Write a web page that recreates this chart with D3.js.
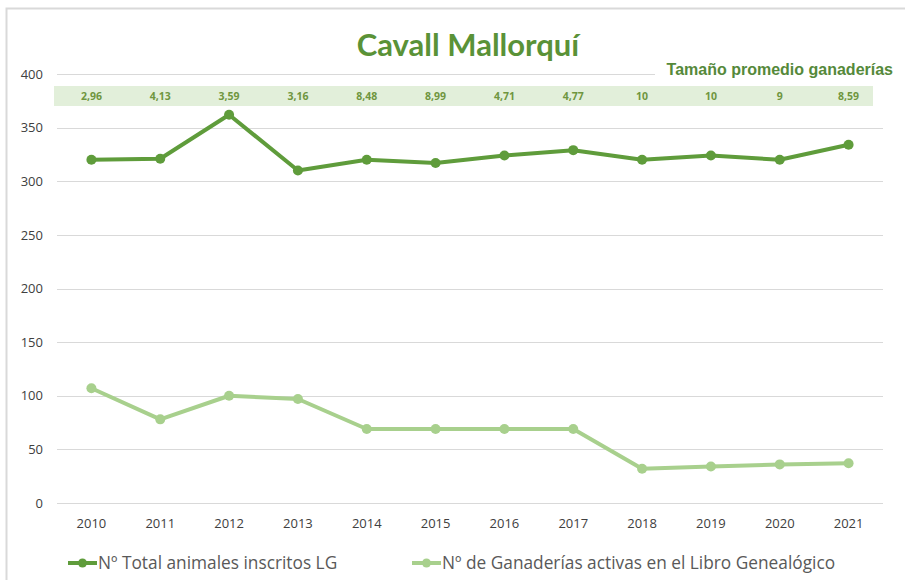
<!DOCTYPE html>
<head>
    <meta charset="utf-8" />
    <title>Cavall Mallorquí</title>
</head>

<style>
    body {
        margin: 0;
        background-color: #ffffff;
    }

    .axis text {
        font-family: "Open Sans", sans-serif;
        font-size: 13px;
        fill: #404040;
    }

    .axis path,
    .axis line {
        display: none;
    }

    .grid line {
        stroke: #d9d9d9;
        stroke-width: 1px;
        shape-rendering: crispEdges;
    }
</style>

<body>
    <svg id="chart" width="905" height="580"></svg>
    <script src="https://cdn.jsdelivr.net/npm/d3@7"></script>

    <script>
        // data
        var years = ["2010", "2011", "2012", "2013", "2014", "2015", "2016", "2017", "2018", "2019", "2020", "2021"];
        var totalAnimales = [320, 321, 362, 310, 320, 317, 324, 329, 320, 324, 320, 334];
        var ganaderias = [107, 78, 100, 97, 69, 69, 69, 69, 32, 34, 36, 37];
        var tamanoPromedio = ["2,96", "4,13", "3,59", "3,16", "8,48", "8,99", "4,71", "4,77", "10", "10", "9", "8,59"];
        var yTicks = [0, 50, 100, 150, 200, 250, 300, 350, 400];
        var seriesNames = ["Nº Total animales inscritos LG", "Nº de Ganaderías activas en el Libro Genealógico"];

        var darkGreen = "#5f9c3b",
            lightGreen = "#a8d08d";

        var svg = d3.select("#chart");

        // chart border
        svg.append("rect")
            .attr("x", 6.5)
            .attr("y", 8.5)
            .attr("width", 910)
            .attr("height", 590)
            .attr("fill", "none")
            .attr("stroke", "#d9d9d9")
            .attr("stroke-width", 2);

        var x = d3.scaleBand().domain(years).range([57, 883]);
        var y = d3.scaleLinear().domain([0, 400]).range([503, 74]);

        // gridlines
        svg.append("g")
            .attr("class", "grid")
            .selectAll("line")
            .data(yTicks)
            .enter().append("line")
            .attr("x1", 57)
            .attr("x2", function(d) { return d == 400 ? 655 : 883; })
            .attr("y1", function(d) { return Math.round(y(d)) + 0.5; })
            .attr("y2", function(d) { return Math.round(y(d)) + 0.5; });

        // axes
        svg.append("g")
            .attr("class", "y axis")
            .attr("transform", "translate(49,0)")
            .call(d3.axisLeft(y).tickValues(yTicks).tickSize(0).tickPadding(6));

        svg.append("g")
            .attr("class", "x axis")
            .attr("transform", "translate(0,515)")
            .call(d3.axisBottom(x).tickSize(0).tickPadding(4));

        // title
        svg.append("text")
            .attr("x", 468)
            .attr("y", 56)
            .attr("text-anchor", "middle")
            .attr("font-family", "Lato, sans-serif")
            .attr("font-weight", "bold")
            .attr("font-size", "31px")
            .attr("fill", "#5a9237")
            .text("Cavall Mallorquí");

        svg.append("text")
            .attr("x", 893)
            .attr("y", 75)
            .attr("text-anchor", "end")
            .attr("font-family", "'Liberation Sans Narrow', sans-serif")
            .attr("font-weight", "bold")
            .attr("font-size", "16px")
            .attr("fill", "#55893a")
            .text("Tamaño promedio ganaderías");

        // band with the average size
        svg.append("rect")
            .attr("x", 54)
            .attr("y", 86)
            .attr("width", 819)
            .attr("height", 20)
            .attr("fill", "#e2efda");

        svg.selectAll(".avg")
            .data(tamanoPromedio)
            .enter().append("text")
            .attr("class", "avg")
            .attr("x", function(d, i) { return x(years[i]) + x.bandwidth() / 2; })
            .attr("y", 100)
            .attr("text-anchor", "middle")
            .attr("font-family", "'Open Sans', sans-serif")
            .attr("font-weight", "bold")
            .attr("font-size", "10.5px")
            .attr("fill", "#6f963f")
            .text(function(d) { return d; });

        // lines
        var line = d3.line()
            .x(function(d, i) { return x(years[i]) + x.bandwidth() / 2; })
            .y(function(d) { return y(d); });

        var series = [
            { name: seriesNames[0], values: totalAnimales, color: darkGreen },
            { name: seriesNames[1], values: ganaderias, color: lightGreen }
        ];

        series.forEach(function(s) {
            svg.append("path")
                .datum(s.values)
                .attr("fill", "none")
                .attr("stroke", s.color)
                .attr("stroke-width", 4)
                .attr("stroke-linejoin", "round")
                .attr("d", line);

            svg.selectAll(null)
                .data(s.values)
                .enter().append("circle")
                .attr("cx", function(d, i) { return x(years[i]) + x.bandwidth() / 2; })
                .attr("cy", function(d) { return y(d); })
                .attr("r", 5)
                .attr("fill", s.color);
        });

        // legend
        var legendX = [68, 412];
        var legend = svg.selectAll(".legend")
            .data(series)
            .enter().append("g")
            .attr("class", "legend")
            .attr("transform", function(d, i) { return "translate(" + legendX[i] + ",563)"; });

        legend.append("line")
            .attr("x1", 0)
            .attr("x2", 29)
            .attr("stroke", function(d) { return d.color; })
            .attr("stroke-width", 4);

        legend.append("circle")
            .attr("cx", 14.5)
            .attr("r", 4.5)
            .attr("fill", function(d) { return d.color; });

        legend.append("text")
            .attr("x", 30)
            .attr("y", 6)
            .attr("font-family", "'Open Sans', sans-serif")
            .attr("font-size", "17.3px")
            .attr("fill", "#595959")
            .text(function(d) { return d.name; });
    </script>
</body>
